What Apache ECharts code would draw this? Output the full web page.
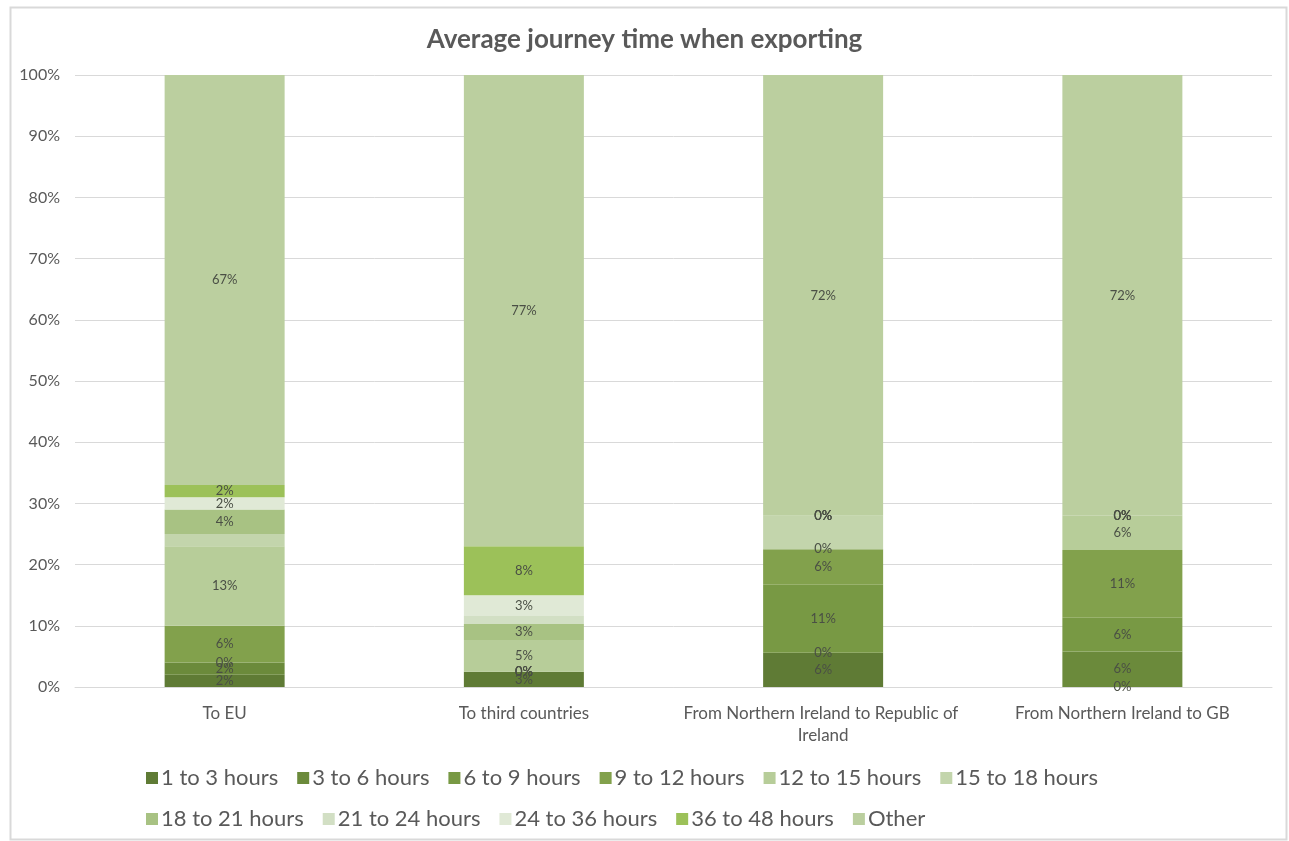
<!DOCTYPE html>
<html>
<head>
<meta charset="utf-8">
<script src="https://cdn.jsdelivr.net/npm/echarts@6/dist/echarts.min.js"></script>
<style>
    html, body { margin: 0; padding: 0; background: #fff; }
    #journeyChart { width: 1289px; height: 841px; }
</style>
</head>
<body>
<div id="journeyChart"></div>
<script>
var categories = ['To EU', 'To third countries', 'From Northern Ireland to Republic of Ireland', 'From Northern Ireland to GB'];
var seriesNames = ['1 to 3 hours', '3 to 6 hours', '6 to 9 hours', '9 to 12 hours', '12 to 15 hours', '15 to 18 hours',
    '18 to 21 hours', '21 to 24 hours', '24 to 36 hours', '36 to 48 hours', 'Other'];
// share of respondents per journey time, one array per band (EU, third, NI->ROI, NI->GB)
var h1to3 = [2, 2.5, 5.6, 0];
var h3to6 = [2, 0, 0, 5.8];
var h6to9 = [0, 0, 11.1, 5.5];
var h9to12 = [6, 0, 5.8, 11.1];
var h12to15 = [13, 5.2, 0, 5.6];
var h15to18 = [2, 0, 5.5, 0];
var h18to21 = [4, 2.6, 0, 0];
var h21to24 = [0, 1.3, 0, 0];
var h24to36 = [2, 3.4, 0, 0];
var h36to48 = [2, 8, 0, 0];
var other = [67, 77, 72, 72];
var yTicks = [0, 10, 20, 30, 40, 50, 60, 70, 80, 90, 100];

var values = [h1to3, h3to6, h6to9, h9to12, h12to15, h15to18, h18to21, h21to24, h24to36, h36to48, other];
var colors = ['#5f7b35', '#6b8a3b', '#789944', '#82a14c', '#b7cd99', '#c3d5ac', '#a8c283', '#d2dfc4', '#e0e9d6', '#9cc159', '#bbcf9f'];
// these two bands carry no data labels in the original
var hideLabel = ['15 to 18 hours', '21 to 24 hours'];
var fontColor = '#595959';
var font = 'Lato';

var chart = echarts.init(document.getElementById('journeyChart'));

var series = seriesNames.map(function (name, i) {
    return {
        name: name,
        type: 'bar',
        stack: 'total',
        barWidth: 120,
        itemStyle: { color: colors[i] },
        label: {
            show: hideLabel.indexOf(name) < 0,
            position: 'inside',
            color: '#4a4f45',
            fontFamily: font,
            fontSize: 13,
            formatter: function (p) {
                return Math.round(p.value) + '%';
            }
        },
        data: values[i]
    };
});

var option = {
    backgroundColor: '#fff',
    color: colors,
    animation: false,
    title: {
        text: 'Average journey time when exporting',
        left: 'center',
        top: 22,
        textStyle: {
            color: fontColor,
            fontFamily: font,
            fontWeight: 'bold',
            fontSize: 26
        }
    },
    graphic: [{
        type: 'rect',
        left: 8,
        top: 5,
        shape: { width: 1276, height: 832 },
        style: { fill: 'none', stroke: '#d9d9d9', lineWidth: 2 },
        silent: true
    }],
    legend: {
        data: seriesNames,
        left: 141,
        top: 762,
        width: 1060,
        itemWidth: 12,
        itemHeight: 12,
        itemGap: 19,
        icon: 'rect',
        textStyle: {
            color: fontColor,
            fontFamily: font,
            fontSize: 22,
            padding: [0, 0, 0, -2]
        }
    },
    grid: {
        left: 75,
        right: 17,
        top: 75,
        bottom: 154,
        containLabel: false
    },
    xAxis: {
        type: 'category',
        data: categories,
        axisTick: { show: false },
        axisLine: { lineStyle: { color: '#d9d9d9' } },
        axisLabel: {
            interval: 0,
            color: fontColor,
            fontFamily: font,
            fontSize: 17,
            margin: 16,
            width: 295,
            overflow: 'break',
            lineHeight: 22
        }
    },
    yAxis: {
        type: 'value',
        min: yTicks[0],
        max: yTicks[yTicks.length - 1],
        interval: yTicks[1] - yTicks[0],
        axisLine: { show: false },
        axisTick: { show: false },
        splitLine: { lineStyle: { color: '#d9d9d9' } },
        axisLabel: {
            color: fontColor,
            fontFamily: font,
            fontSize: 16,
            margin: 15,
            formatter: '{value}%'
        }
    },
    series: series
};

chart.setOption(option);
window.addEventListener('resize', function () {
    chart.resize();
});
</script>
</body>
</html>
